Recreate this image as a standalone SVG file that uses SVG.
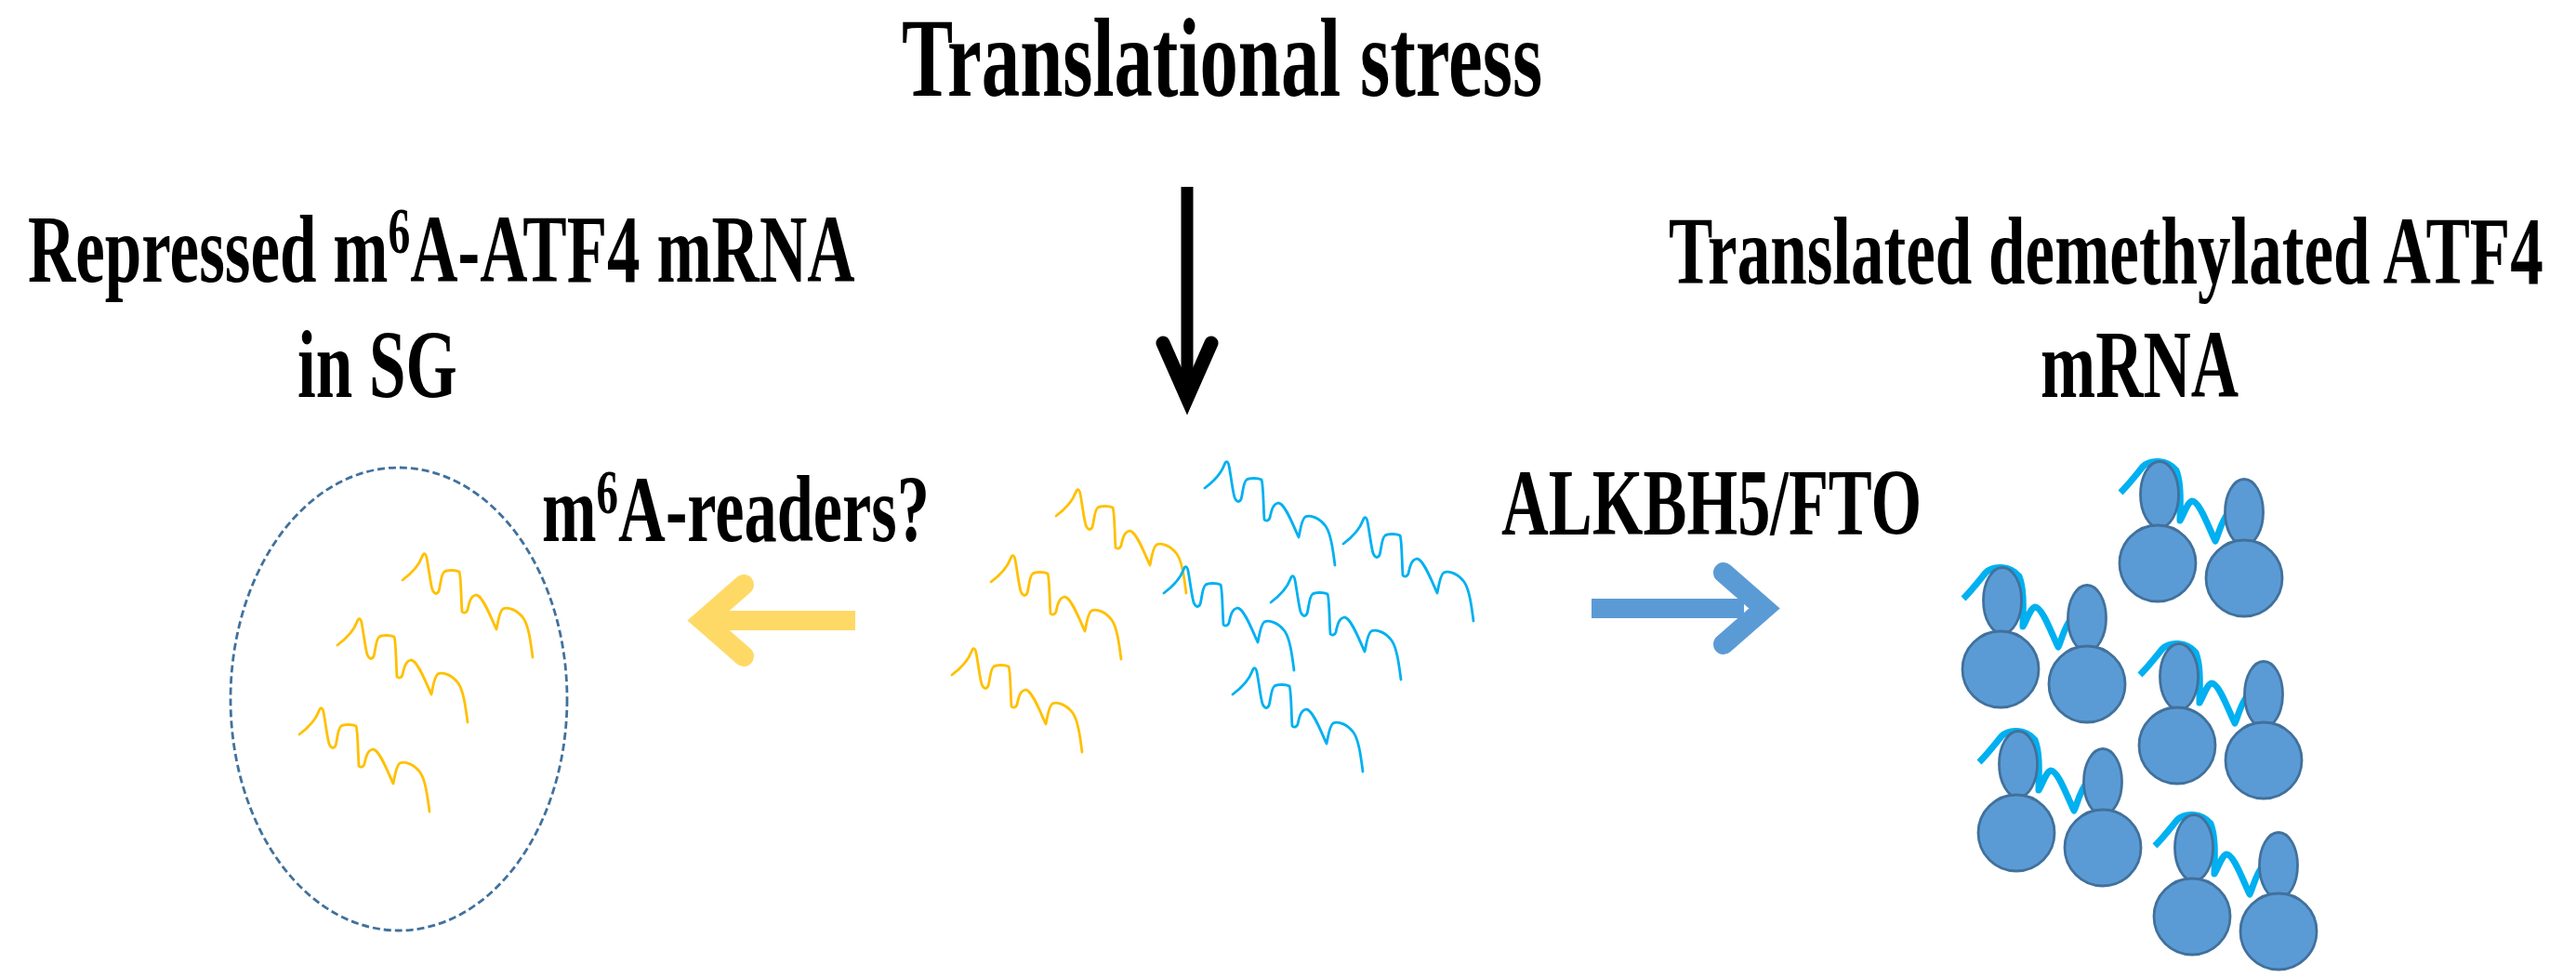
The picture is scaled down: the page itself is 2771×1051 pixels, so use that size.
<svg xmlns="http://www.w3.org/2000/svg" xmlns:xlink="http://www.w3.org/1999/xlink" width="2771" height="1051" viewBox="0 0 2771 1051">
<style>
.t{font-family:"Liberation Serif","Times New Roman",serif;font-weight:bold;fill:#000}
.yel{fill:none;stroke:#FFC000;stroke-width:2.8;stroke-linecap:round;stroke-linejoin:round}
.blu{fill:none;stroke:#00B0F0;stroke-width:2.8;stroke-linecap:round;stroke-linejoin:round}
.sub{fill:#5B9BD5;stroke:#41719C;stroke-width:2.8}
.rna{fill:none;stroke:#00B0F0;stroke-width:7;stroke-linecap:butt;stroke-linejoin:round}
</style>
<defs>
<path id="sq" d="M0,0 C8,-6 17,-14 21,-25 C23,-30 25,-29 26,-24 C28,-14 30,4 32,10 C34,15 37,16 39,12 C41,6 41,-6 45,-9 C48,-11 57,-11 61,-9 C63,-4 63,20 64,34 C66,36 69,35 70,32 C72,22 74,17 79,16 C86,16 95,40 101,53 C103,44 104,34 108,31 C114,28 124,33 130,41 C136,50 138,68 140,83"/>
<g id="ribo">
<path class="rna" d="M-40,-76 C-32,-84 -24,-94 -16,-104 C-8,-112 10,-112 20,-100 C26,-85 24,-60 24,-46 C28,-52 32,-66 37,-67 C45,-67 55,-38 62,-24 C66,-32 68,-45 76,-54"/>
<ellipse class="sub" cx="2" cy="-74" rx="20.5" ry="35.5"/>
<circle class="sub" cx="0" cy="0" r="41"/>
<ellipse class="sub" cx="93" cy="-55" rx="20.5" ry="35.5"/>
<circle class="sub" cx="93" cy="16" r="41"/>
</g>
</defs>
<rect width="2771" height="1051" fill="#fff"/>

<g id="title">
<text class="t" font-size="120" transform="translate(970,103) scale(0.69,1)">Translational stress</text>
</g>

<g id="label-repressed">
<text class="t" font-size="103" transform="translate(30,303) scale(0.69,1)">Repressed m<tspan font-size="69" dy="-31">6</tspan><tspan dy="31">A-ATF4 mRNA</tspan></text>
<text class="t" font-size="103" transform="translate(320,427) scale(0.69,1)">in SG</text>
</g>

<g id="label-translated">
<text class="t" font-size="103" transform="translate(1795,305) scale(0.69,1)">Translated demethylated ATF4</text>
<text class="t" font-size="103" transform="translate(2195,427) scale(0.69,1)">mRNA</text>
</g>

<g id="label-readers">
<text class="t" font-size="102" transform="translate(583,582) scale(0.69,1)">m<tspan font-size="68" dy="-30">6</tspan><tspan dy="30">A-readers?</tspan></text>
</g>

<g id="label-demethylases">
<text class="t" font-size="102" transform="translate(1615,575) scale(0.69,1)">ALKBH5/FTO</text>
</g>

<g id="stress-granule">
<ellipse cx="429" cy="752" rx="181" ry="249" fill="none" stroke="#41719C" stroke-width="2.8" stroke-dasharray="8,4"/>
<use xlink:href="#sq" href="#sq" class="yel" transform="translate(433,624)"/>
<use xlink:href="#sq" href="#sq" class="yel" transform="translate(363,694)"/>
<use xlink:href="#sq" href="#sq" class="yel" transform="translate(322,790)"/>
</g>

<g id="mrna-pool">
<use xlink:href="#sq" href="#sq" class="yel" transform="translate(1136,555)"/>
<use xlink:href="#sq" href="#sq" class="yel" transform="translate(1066,626)"/>
<use xlink:href="#sq" href="#sq" class="yel" transform="translate(1024,726)"/>
<use xlink:href="#sq" href="#sq" class="blu" transform="translate(1296,525)"/>
<use xlink:href="#sq" href="#sq" class="blu" transform="translate(1445,585)"/>
<use xlink:href="#sq" href="#sq" class="blu" transform="translate(1252,638)"/>
<use xlink:href="#sq" href="#sq" class="blu" transform="translate(1367,648)"/>
<use xlink:href="#sq" href="#sq" class="blu" transform="translate(1326,747)"/>
</g>

<g id="polysomes">
<use xlink:href="#ribo" href="#ribo" transform="translate(2321,606)"/>
<use xlink:href="#ribo" href="#ribo" transform="translate(2152,720)"/>
<use xlink:href="#ribo" href="#ribo" transform="translate(2342,802)"/>
<use xlink:href="#ribo" href="#ribo" transform="translate(2169,896)"/>
<use xlink:href="#ribo" href="#ribo" transform="translate(2358,986)"/>
</g>

<g id="connectors">
<g id="arrow-stress">
<line x1="1277" y1="201" x2="1277" y2="425" stroke="#000" stroke-width="13"/>
<path d="M1251,369 L1277,428 L1303,369" fill="none" stroke="#000" stroke-width="15" stroke-linecap="round" stroke-linejoin="miter"/>
</g>
<g id="arrow-readers">
<rect x="756" y="657" width="164" height="21" fill="#FFD966"/>
<path d="M800,629 L756,667.5 L800,706" fill="none" stroke="#FFD966" stroke-width="22" stroke-linecap="round" stroke-linejoin="miter"/>
</g>
<g id="arrow-demethylases">
<rect x="1712" y="644" width="164" height="21" fill="#5B9BD5"/>
<path d="M1854,616 L1898,654.5 L1854,693" fill="none" stroke="#5B9BD5" stroke-width="22" stroke-linecap="round" stroke-linejoin="miter"/>
</g>
</g>
</svg>
